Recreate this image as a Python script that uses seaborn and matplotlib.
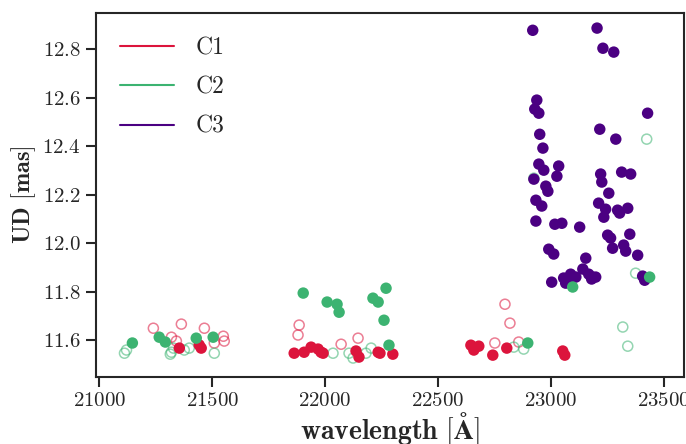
import numpy as np
import pandas as pd
import matplotlib
matplotlib.use('Agg')
import matplotlib.pyplot as plt
from matplotlib.lines import Line2D
import seaborn as sns

# --- data ------------------------------------------------------------------
# C1: filled (main) and open (secondary) points
c1_wl = [21354, 21442, 21451, 21863, 21907, 21938, 21969, 21982, 21991, 22137,
         22150, 22235, 22243, 22300, 22646, 22659, 22681, 22743, 22805, 23053, 23062]
c1_ud = [11.567, 11.580, 11.567, 11.546, 11.550, 11.571, 11.563, 11.550, 11.546, 11.555,
         11.530, 11.550, 11.546, 11.542, 11.579, 11.559, 11.575, 11.538, 11.567, 11.555, 11.538]
c1_open_wl = [21239, 21363, 21465, 21319, 21341, 21549, 21553, 21509, 21885, 21880,
              22071, 22146, 22797, 22819, 22752, 22858]
c1_open_ud = [11.649, 11.666, 11.649, 11.612, 11.596, 11.616, 11.596, 11.588, 11.662, 11.621,
              11.583, 11.608, 11.748, 11.670, 11.588, 11.592]

# C2
c2_wl = [21146, 21265, 21292, 21429, 21504, 21903, 22009, 22053, 22062, 22212,
         22235, 22270, 22261, 22283, 22898, 23097, 23438]
c2_ud = [11.588, 11.612, 11.592, 11.608, 11.612, 11.794, 11.757, 11.748, 11.715, 11.773,
         11.757, 11.814, 11.682, 11.579, 11.588, 11.819, 11.860]
c2_open_wl = [21111, 21120, 21314, 21319, 21328, 21376, 21398, 21509, 22035, 22106,
              22124, 22181, 22204, 22836, 22880, 23425, 23376, 23319, 23341, 22925]
c2_open_ud = [11.546, 11.559, 11.542, 11.550, 11.567, 11.559, 11.567, 11.546, 11.546, 11.546,
              11.526, 11.546, 11.567, 11.571, 11.563, 12.429, 11.876, 11.654, 11.575, 12.268]

# C3
c3_wl = [22920, 23205, 23231, 23279, 22938, 22929, 22947, 23429, 22951, 23217,
         23288, 22965, 22947, 22969, 23035, 22925, 23027, 23221, 23226, 23314,
         23354, 22978, 22987, 23257, 22934, 22960, 23212, 23243, 23235, 23296,
         23305, 23341, 22934, 23018, 23049, 23128, 23252, 23265, 23274, 23323,
         23332, 23350, 23385, 22991, 23013, 23155, 23142, 23004, 23057, 23088,
         23080, 23066, 23111, 23168, 23185, 23199, 23181, 23407, 23416]
c3_ud = [12.878, 12.887, 12.804, 12.788, 12.590, 12.553, 12.536, 12.536, 12.449, 12.470,
         12.429, 12.392, 12.326, 12.301, 12.318, 12.264, 12.276, 12.285, 12.252, 12.293,
         12.285, 12.235, 12.214, 12.206, 12.177, 12.153, 12.165, 12.140, 12.107, 12.136,
         12.124, 12.144, 12.091, 12.078, 12.082, 12.066, 12.033, 12.021, 11.979, 11.992,
         11.967, 12.037, 11.950, 11.975, 11.955, 11.938, 11.893, 11.839, 11.856, 11.872,
         11.847, 11.835, 11.860, 11.872, 11.860, 11.860, 11.852, 11.864, 11.847]

clusters = ['C1', 'C2', 'C3']
colors = {'C1': 'crimson', 'C2': 'mediumseagreen', 'C3': 'indigo'}

filled = pd.concat([
    pd.DataFrame({'wl': c1_wl, 'ud': c1_ud, 'cl': 'C1'}),
    pd.DataFrame({'wl': c3_wl, 'ud': c3_ud, 'cl': 'C3'}),
    pd.DataFrame({'wl': c2_wl, 'ud': c2_ud, 'cl': 'C2'}),
], ignore_index=True)
opened = pd.concat([
    pd.DataFrame({'wl': c1_open_wl, 'ud': c1_open_ud, 'cl': 'C1'}),
    pd.DataFrame({'wl': c2_open_wl, 'ud': c2_open_ud, 'cl': 'C2'}),
], ignore_index=True)

# --- style -------------------------------------------------------------------
sns.set_style('ticks')
plt.rcParams['font.family'] = 'serif'
plt.rcParams['font.serif'] = ['cmr10']
plt.rcParams['mathtext.fontset'] = 'cm'
plt.rcParams['axes.formatter.use_mathtext'] = True

fig, ax = plt.subplots(figsize=(6.86, 4.44), dpi=100)

# open markers first, then filled ones
for cl in ['C1', 'C2']:
    sub = opened[opened['cl'] == cl]
    sns.scatterplot(data=sub, x='wl', y='ud', ax=ax, s=52, color=colors[cl],
                    facecolor='none', edgecolor=colors[cl], linewidth=1.1,
                    alpha=0.55, legend=False)

sns.scatterplot(data=filled, x='wl', y='ud', hue='cl', palette=colors, ax=ax,
                s=68, linewidth=0, legend=False)

ax.set_xlim(20985, 23590)
ax.set_ylim(11.448, 12.948)
ax.set_xticks([21000, 21500, 22000, 22500, 23000, 23500])
ax.set_yticks([11.6, 11.8, 12.0, 12.2, 12.4, 12.6, 12.8])
ax.set_xlabel(r'$\mathbf{wavelength\ [\AA]}$', fontsize=20, labelpad=0)
ax.set_ylabel(r'$\mathbf{UD\ [mas]}$', fontsize=17.5, labelpad=3)
ax.tick_params(axis='both', labelsize=15, length=7, width=1.5, direction='out',
               pad=4)
for sp in ax.spines.values():
    sp.set_linewidth(1.5)

handles = [Line2D([0], [0], color=colors[c], lw=1.5) for c in clusters]
ax.legend(handles, clusters, loc='upper left', frameon=False, fontsize=17,
          handlelength=2.3, handletextpad=0.9, labelspacing=0.73,
          borderaxespad=0.6)

fig.subplots_adjust(left=0.14, right=0.997, top=0.97, bottom=0.151)
fig.savefig('out.png', dpi=100)
